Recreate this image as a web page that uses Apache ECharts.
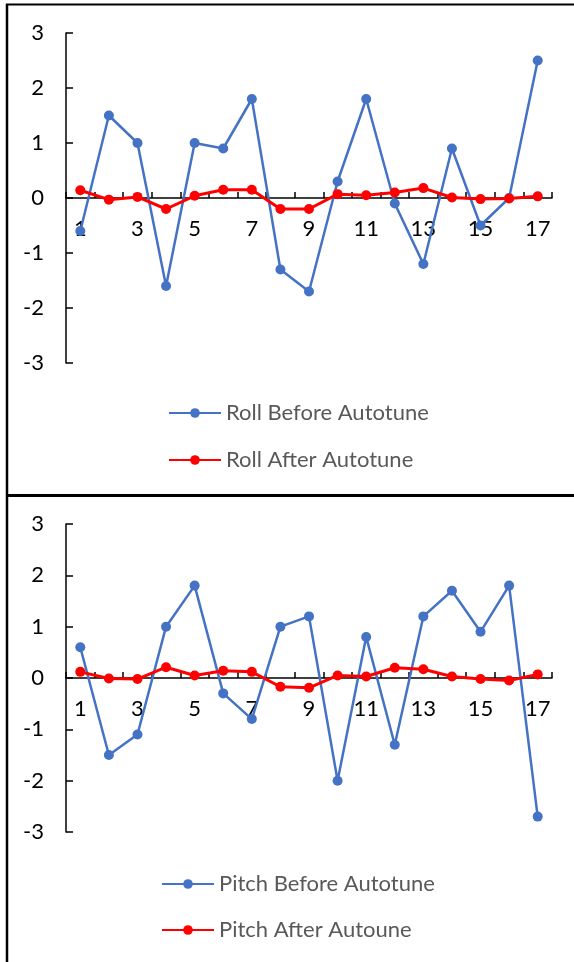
<!DOCTYPE html>
<html>
<head>
<meta charset="utf-8">
<script src="https://cdn.jsdelivr.net/npm/echarts@6/dist/echarts.min.js"></script>
<style>
  html, body { margin: 0; padding: 0; background: #fff; }
  #chart { width: 574px; height: 962px; }
</style>
</head>
<body>
<div id="chart"></div>
<script>
const categories = ["1", "2", "3", "4", "5", "6", "7", "8", "9", "10", "11", "12", "13", "14", "15", "16", "17"];
const rollBefore = [-0.6, 1.5, 1.0, -1.6, 1.0, 0.9, 1.8, -1.3, -1.7, 0.3, 1.8, -0.1, -1.2, 0.9, -0.5, 0, 2.5];
const rollAfter = [0.14, -0.03, 0.02, -0.2, 0.04, 0.15, 0.15, -0.2, -0.2, 0.07, 0.05, 0.1, 0.18, 0.01, -0.02, -0.01, 0.03];
const pitchBefore = [0.6, -1.5, -1.1, 1.0, 1.8, -0.3, -0.8, 1.0, 1.2, -2.0, 0.8, -1.3, 1.2, 1.7, 0.9, 1.8, -2.7];
const pitchAfter = [0.12, -0.01, -0.02, 0.21, 0.05, 0.14, 0.12, -0.17, -0.19, 0.05, 0.03, 0.2, 0.17, 0.03, -0.02, -0.05, 0.07];
const yMin = -3;
const yMax = 3;

const FONT = "Lato, 'Open Sans', sans-serif";
const BLUE = "#4472C4";
const RED = "#FF0000";

const chart = echarts.init(document.getElementById("chart"), null, { renderer: "canvas" });

// the category axis sits at y = 0, which is the middle of each grid
function xAxis(gridIndex, gridHeight) {
  return {
    type: "category",
    gridIndex,
    data: categories,
    boundaryGap: true,
    position: "bottom",
    offset: -gridHeight / 2,
    axisLine: { onZero: false, lineStyle: { color: "#000", width: 1.5 } },
    axisTick: { show: true, inside: true, length: 6, interval: 0, lineStyle: { color: "#000", width: 1.5 } },
    axisLabel: { interval: 1, margin: 20, color: "#000", fontSize: 22, fontFamily: FONT },
    splitLine: { show: false },
  };
}

function yAxis(gridIndex) {
  return {
    type: "value",
    gridIndex,
    min: yMin,
    max: yMax,
    interval: 1,
    axisLine: { show: true, lineStyle: { color: "#000", width: 1.5 } },
    axisTick: { show: true, inside: true, length: 7, lineStyle: { color: "#000", width: 1.5 } },
    axisLabel: { margin: 22, color: "#000", fontSize: 22, fontFamily: FONT },
    splitLine: { show: false },
  };
}

function lineSeries(name, data, color, idx, width) {
  return {
    name,
    type: "line",
    data,
    xAxisIndex: idx,
    yAxisIndex: idx,
    symbol: "circle",
    symbolSize: 10,
    lineStyle: { color, width },
    itemStyle: { color },
    animation: false,
  };
}

function legend(name, left, top) {
  return {
    data: [name],
    left,
    top,
    padding: 0,
    itemWidth: 52,
    itemHeight: 12,
    selectedMode: false,
    textStyle: { color: "#595959", fontSize: 22, fontFamily: FONT, lineHeight: 24 },
  };
}

const option = {
  backgroundColor: "#fff",
  grid: [
    { left: 66, right: 22, top: 33, height: 330 },
    { left: 66, right: 22, top: 524, height: 308 },
  ],
  xAxis: [xAxis(0, 330), xAxis(1, 308)],
  yAxis: [yAxis(0), yAxis(1)],
  legend: [
    legend("Roll Before Autotune", 168, 401),
    legend("Roll After Autotune", 168, 448),
    legend("Pitch Before Autotune", 161, 872),
    legend("Pitch After Autoune", 161, 918),
  ],
  series: [
    lineSeries("Roll Before Autotune", rollBefore, BLUE, 0, 2.5),
    lineSeries("Roll After Autotune", rollAfter, RED, 0, 3),
    lineSeries("Pitch Before Autotune", pitchBefore, BLUE, 1, 2.5),
    lineSeries("Pitch After Autoune", pitchAfter, RED, 1, 3),
  ],
  graphic: [
    { type: "line", shape: { x1: 6, y1: 4.5, x2: 574, y2: 4.5 }, style: { stroke: "#000", lineWidth: 2 } },
    { type: "line", shape: { x1: 7, y1: 4, x2: 7, y2: 962 }, style: { stroke: "#000", lineWidth: 2.5 } },
    { type: "line", shape: { x1: 6, y1: 495.5, x2: 574, y2: 495.5 }, style: { stroke: "#000", lineWidth: 3 } },
  ],
};

chart.setOption(option);
</script>
</body>
</html>
